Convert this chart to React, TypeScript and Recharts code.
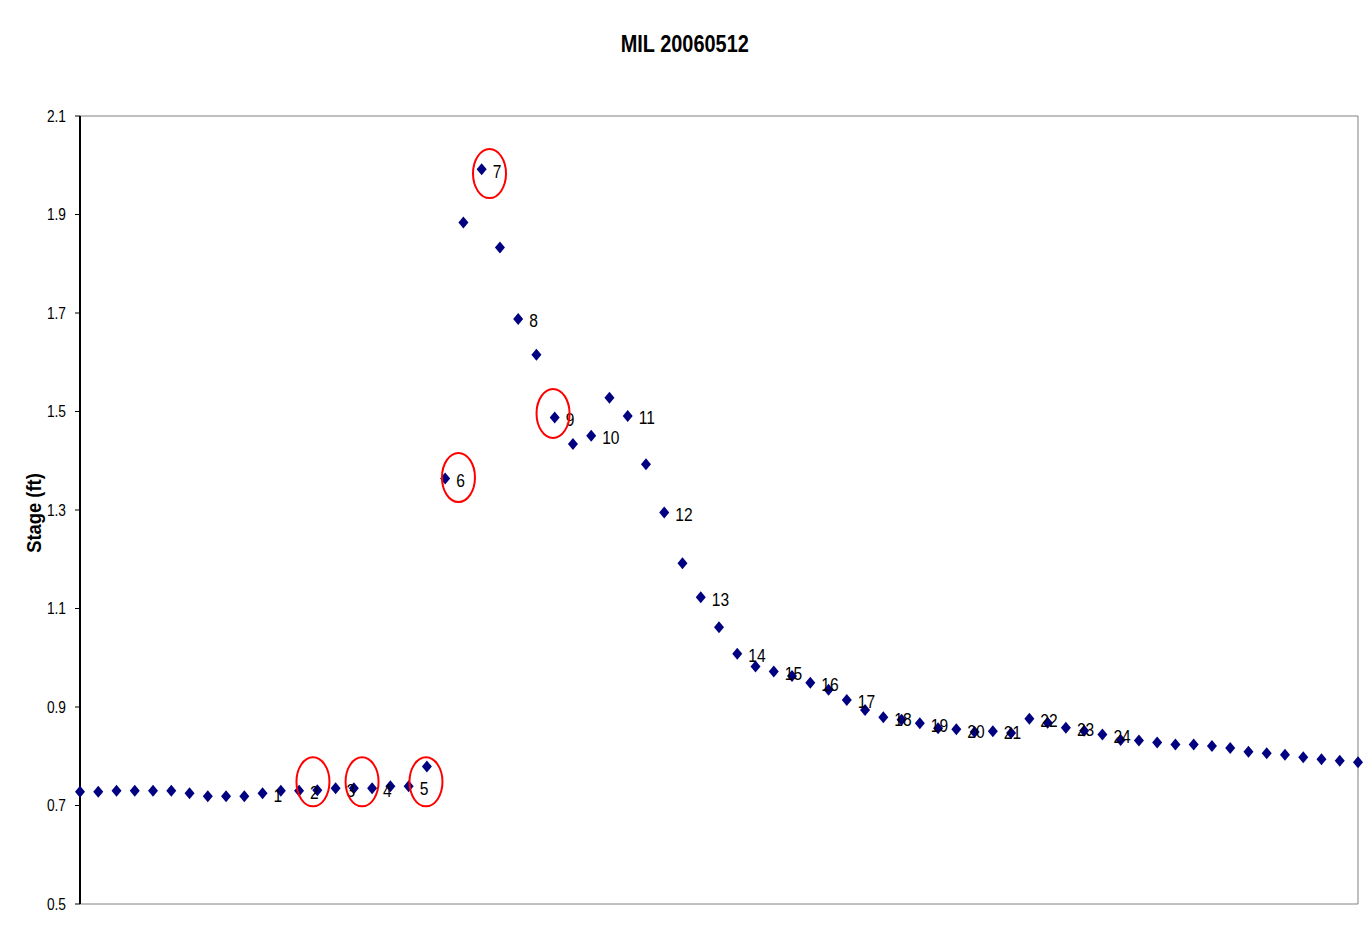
import React from 'react'
import { ScatterChart, Scatter, XAxis, YAxis, ReferenceLine } from 'recharts'

// stage readings, one per time step (0..70)
const stage = [
  0.728, 0.728, 0.730, 0.730, 0.730, 0.730, 0.725, 0.719, 0.719, 0.719,
  0.725, 0.730, 0.730, 0.731, 0.735, 0.735, 0.735, 0.739, 0.739, 0.779,
  1.364, 1.884, 1.992, 1.833, 1.688, 1.615, 1.488, 1.434, 1.451, 1.528,
  1.491, 1.393, 1.295, 1.192, 1.123, 1.062, 1.008, 0.982, 0.972, 0.963,
  0.949, 0.935, 0.914, 0.894, 0.879, 0.874, 0.867, 0.857, 0.855, 0.849,
  0.851, 0.847, 0.876, 0.868, 0.858, 0.852, 0.844, 0.833, 0.832, 0.828,
  0.824, 0.824, 0.821, 0.817, 0.809, 0.806, 0.803, 0.798, 0.794, 0.791,
  0.788,
]

// sample numbers and the time step each one was taken at
const sampleLabels = ['1', '2', '3', '4', '5', '6', '7', '8', '9', '10', '11', '12',
  '13', '14', '15', '16', '17', '18', '19', '20', '21', '22', '23', '24']
const sampleSteps = [10, 12, 14, 16, 18, 20, 22, 24, 26, 28, 30, 32,
  34, 36, 38, 40, 42, 44, 46, 48, 50, 52, 54, 56]

// red rings drawn around flagged samples
const ringX = [12.76, 15.45, 18.95, 20.73, 22.43, 25.91]
const ringY = [0.748, 0.748, 0.748, 1.366, 1.983, 1.496]

const yTicks = [0.5, 0.7, 0.9, 1.1, 1.3, 1.5, 1.7, 1.9, 2.1]

const FONT = "'Liberation Sans', Arial, sans-serif"

const points = stage.map((v, i) => ({ x: i, y: v }))
const samples = sampleSteps.map((s, i) => ({ x: s, y: stage[s], label: sampleLabels[i] }))
const rings = ringX.map((x, i) => ({ x, y: ringY[i] }))

const Diamond = (props: any) => {
  const { cx, cy } = props
  return <path d={`M${cx},${cy - 6}L${cx + 5},${cy}L${cx},${cy + 6}L${cx - 5},${cy}Z`} fill="#000080" />
}

// narrow-looking text: squeeze horizontally around the anchor point
const SampleText = (props: any) => {
  const { cx, cy, payload } = props
  return (
    <text
      transform={`translate(${cx + 11},${cy + 1.5}) scale(0.82,1)`}
      dy="0.36em"
      fontSize={19}
      fontFamily={FONT}
      fill="#000"
    >
      {payload.label}
    </text>
  )
}

const Ring = (props: any) => {
  const { cx, cy } = props
  return <ellipse cx={cx} cy={cy} rx={16.5} ry={24.5} fill="none" stroke="#ff0000" strokeWidth={2} />
}

const YTick = (props: any) => {
  const { x, y, payload } = props
  return (
    <text
      transform={`translate(${x},${y}) scale(0.86,1)`}
      dy="0.36em"
      textAnchor="end"
      fontSize={16}
      fontFamily={FONT}
      fill="#000"
    >
      {Number(payload.value).toFixed(1)}
    </text>
  )
}

export default function App() {
  return (
    <div style={{ position: 'absolute', left: 0, top: 0, width: 1369, height: 938, background: '#fff' }}>
      <div
        style={{
          position: 'absolute', left: 0, top: 31, width: 1369, textAlign: 'center',
          transform: 'scaleX(0.83)', transformOrigin: '686px 0',
          fontFamily: FONT, fontWeight: 'bold', fontSize: 24, lineHeight: '26px', color: '#000',
        }}
      >
        MIL 20060512
      </div>
      <div
        style={{
          position: 'absolute', left: 34, top: 513,
          transform: 'translate(-50%, -50%) rotate(-90deg) scaleX(0.875)',
          fontFamily: FONT, fontWeight: 'bold', fontSize: 21, whiteSpace: 'nowrap', color: '#000',
        }}
      >
        Stage (ft)
      </div>
      <ScatterChart width={1369} height={938} margin={{ top: 116, right: 11, bottom: 34, left: 0 }}>
        <XAxis dataKey="x" type="number" domain={[0, 70]} hide />
        <YAxis
          dataKey="y"
          type="number"
          domain={[0.5, 2.1]}
          ticks={yTicks}
          width={80}
          axisLine={{ stroke: '#000', strokeWidth: 2 }}
          tickLine={{ stroke: '#000' }}
          tickSize={5}
          tickMargin={9}
          tick={YTick}
        />
        <ReferenceLine y={2.1} stroke="#808080" />
        <ReferenceLine y={0.5} stroke="#808080" />
        <ReferenceLine x={70} stroke="#808080" />
        <Scatter data={points} shape={Diamond} isAnimationActive={false} />
        <Scatter data={samples} shape={SampleText} isAnimationActive={false} />
        <Scatter data={rings} shape={Ring} isAnimationActive={false} />
      </ScatterChart>
    </div>
  )
}
